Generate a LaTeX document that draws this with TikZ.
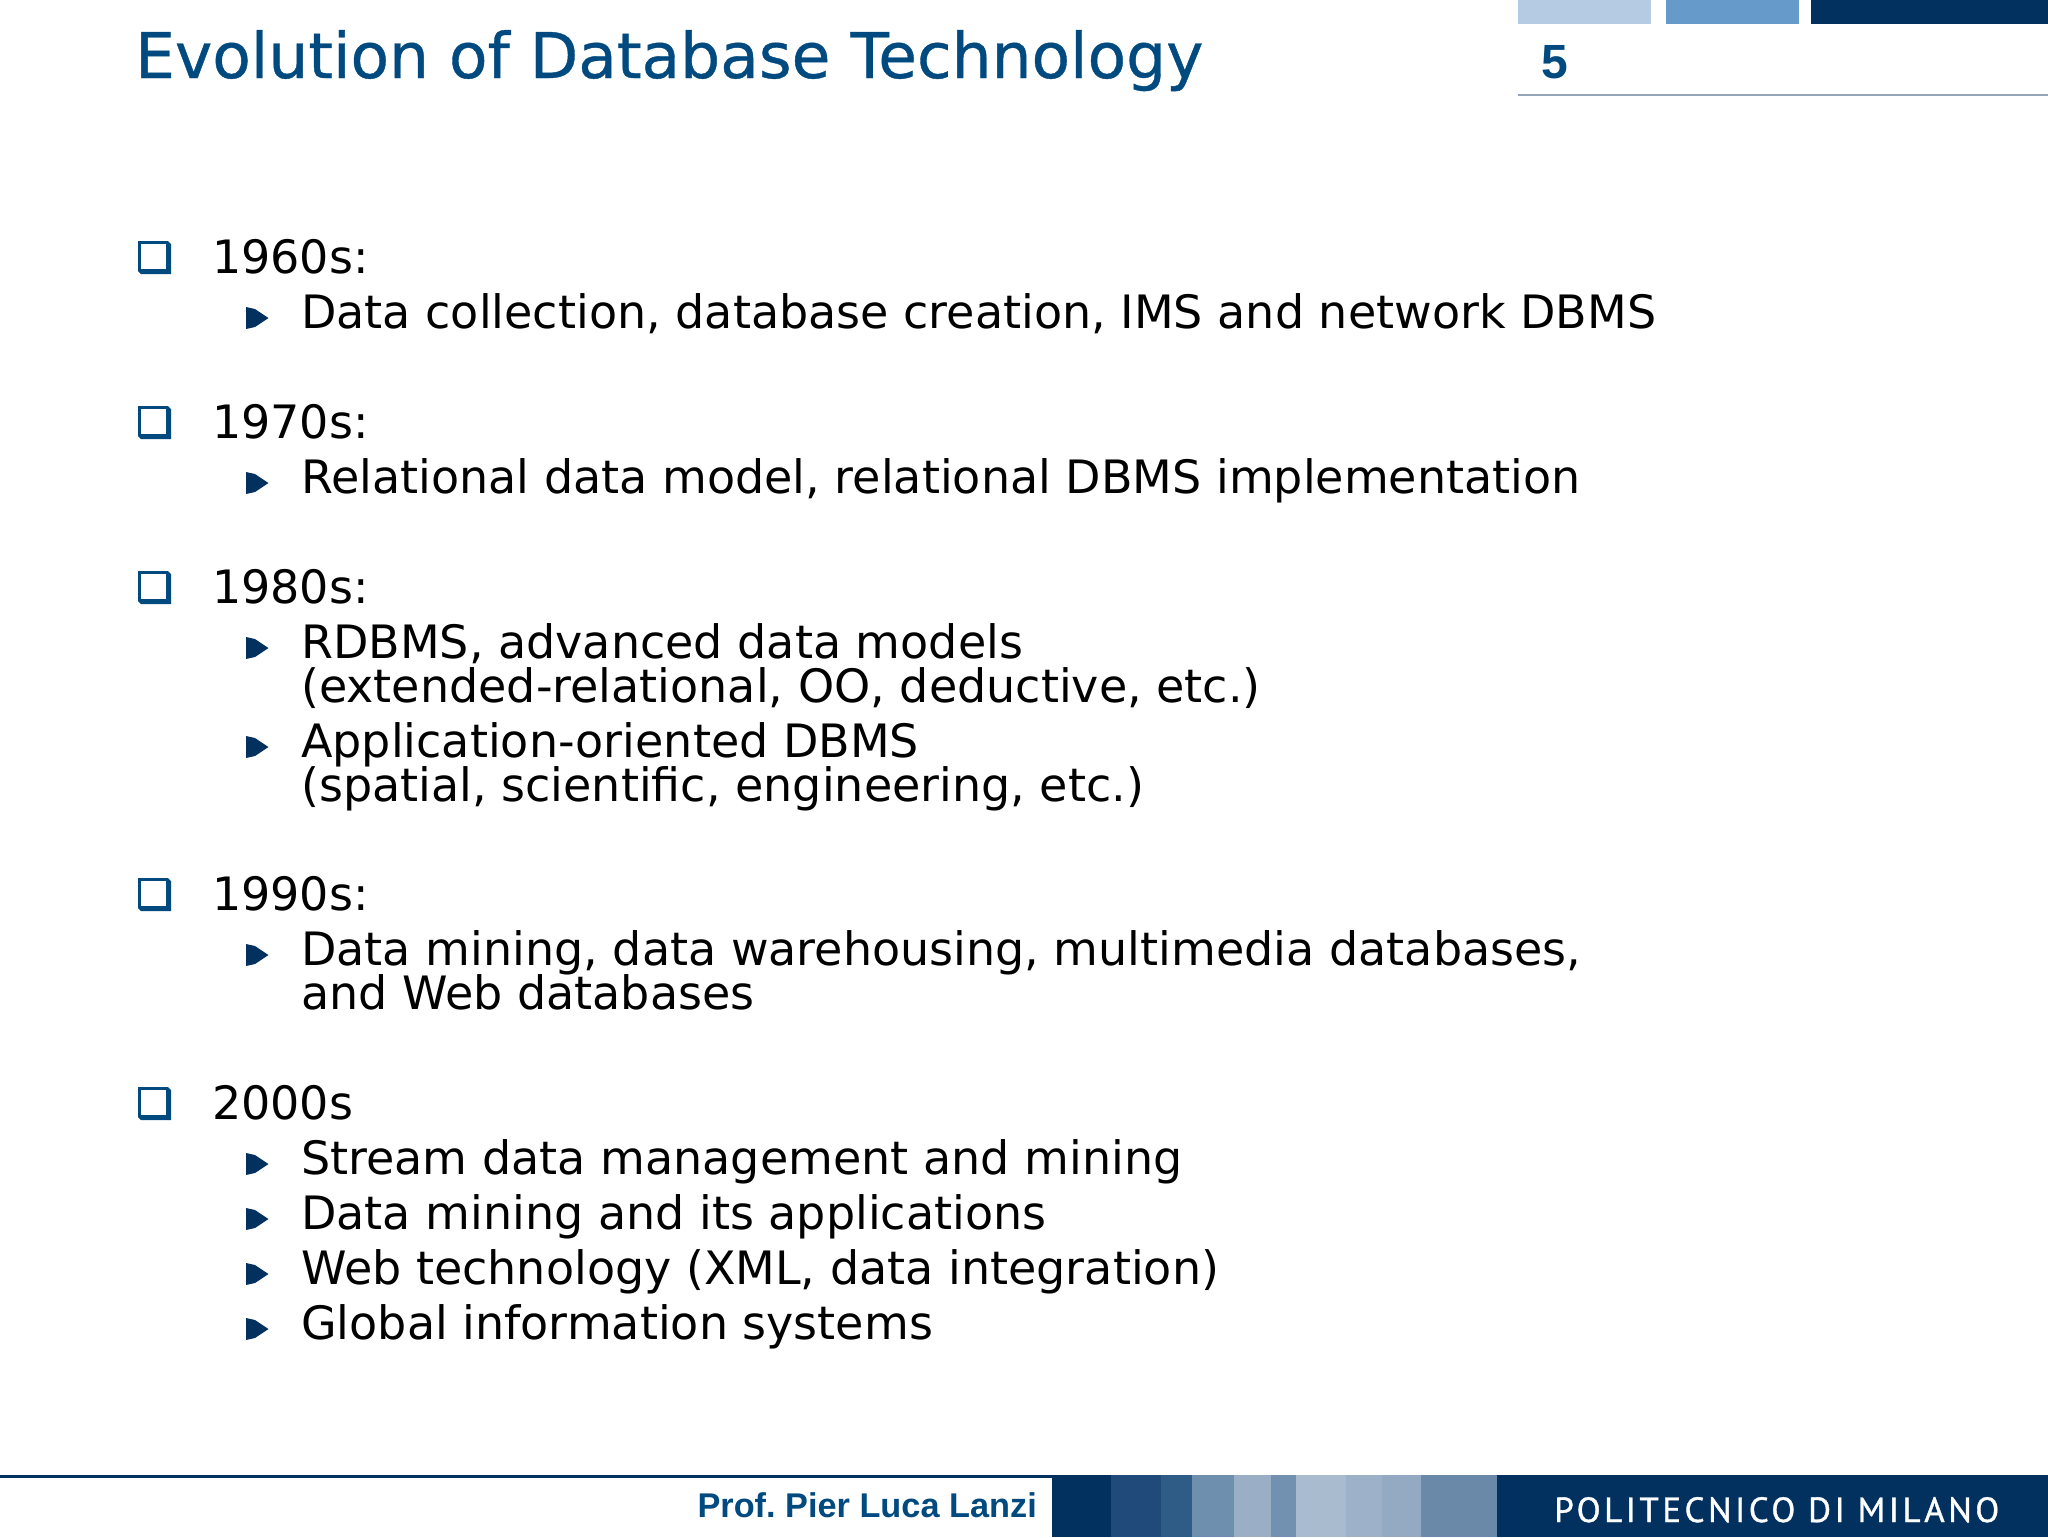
\documentclass[tikz,border=0pt]{standalone}
\usepackage{fontspec}
\setmainfont{DejaVu Sans}
\newfontfamily\titlefont[FakeBold=0.6]{DejaVu Sans}
\newfontfamily\arialfont{Liberation Sans}
\newfontfamily\logofont[LetterSpace=10,FakeBold=1]{PT Sans}
\definecolor{titleblue}{HTML}{004A7F}
\definecolor{navy}{HTML}{02305F}
\definecolor{bulletblue}{HTML}{004A80}
\definecolor{barlight}{HTML}{B5CAE3}
\definecolor{barmid}{HTML}{659ACA}
\definecolor{rulegray}{HTML}{97A5B8}
\definecolor{stripa}{HTML}{1F4A7A}
\definecolor{stripb}{HTML}{2F5C86}
\definecolor{stripc}{HTML}{6F8FAE}
\definecolor{stripd}{HTML}{9AAFC5}
\definecolor{stripe}{HTML}{7291B0}
\definecolor{stripf}{HTML}{A9BBCE}
\definecolor{stripg}{HTML}{9DB2C9}
\definecolor{striph}{HTML}{94AAC3}
\definecolor{stripi}{HTML}{6A88A8}
\tikzset{
  linetext/.style={anchor=base west,inner sep=0pt,font=\fontsize{46}{46}\selectfont},
  squarebullet/.pic={
    \fill[bulletblue] (0,0) -- (30,0) -- (33,3) -- (33,33) -- (3,33) -- (0,30) -- cycle;
    \fill[white] (2.5,2.5) rectangle (27.5,27.5);
  },
  arrowbullet/.pic={
    \fill[navy] (0,0) -- (9,2) -- (22.5,11) -- (9,20) -- (0,22) -- cycle;
  }
}
\begin{document}
\begin{tikzpicture}[x=1pt,y=-1pt]
\useasboundingbox (0,0) rectangle (2048,1537);
\newcommand{\yearpts}{a/273/1960s:, b/438/1970s:, c/603/1980s:, d/910/1990s:, e/1119/2000s}
\newcommand{\subpts}{a/328/{Data collection, database creation, IMS and network DBMS},
  b/493/{Relational data model, relational DBMS implementation},
  c/658/{RDBMS, advanced data models},
  d/757/{Application-oriented DBMS},
  e/965/{Data mining, data warehousing, multimedia databases,},
  f/1174/{Stream data management and mining},
  g/1229/{Data mining and its applications},
  h/1284/{Web technology (XML, data integration)},
  i/1339/{Global information systems}}
\newcommand{\contpts}{c/702/{(extended-relational, OO, deductive, etc.)},
  d/801/{(spatial, scientific, engineering, etc.)},
  e/1009/{and Web databases}}

% header
\node[anchor=base west,inner sep=0pt,text=titleblue,font=\titlefont\fontsize{63}{63}\selectfont] (title) at (135,78) {Evolution of Database Technology};
\fill[barlight] (1518,0) rectangle (1651,24);
\fill[barmid] (1666,0) rectangle (1799,24);
\fill[navy] (1811,0) rectangle (2048,24);
\node[anchor=base west,inner sep=0pt,text=titleblue,font=\arialfont\bfseries\fontsize{48}{48}\selectfont] (page) at (1541,78) {5};
\draw[rulegray,line width=1.5pt] (1518,95) -- (2048,95);

% bullets and text
\foreach \n / \y / \txt in \yearpts {
  \pic at (138,\y-32) {squarebullet};
  \node[linetext] (year\n) at (212,\y) {\txt};
}
\foreach \n / \y / \txt in \subpts {
  \pic at (246,\y-21) {arrowbullet};
  \node[linetext] (sub\n) at (301,\y) {\txt};
}
\foreach \n / \y / \txt in \contpts
  \node[linetext] (cont\n) at (301,\y) {\txt};

% footer
\draw[navy,line width=2.5pt] (0,1476.5) -- (1052,1476.5);
\fill[navy] (1052,1475) rectangle (2048,1537);
\foreach \xa / \xb / \col in {1111/1161/stripa, 1161/1192/stripb, 1192/1234/stripc, 1234/1271/stripd, 1271/1296/stripe, 1296/1346/stripf, 1346/1382/stripg, 1382/1421/striph, 1421/1497/stripi}
  \fill[\col] (\xa,1475) rectangle (\xb,1537);
\node[anchor=base east,inner sep=0pt,text=titleblue,font=\arialfont\bfseries\fontsize{34.3}{35}\selectfont\frenchspacing] (prof) at (1037,1517) {Prof. Pier Luca Lanzi};
\node[anchor=base west,inner sep=0pt,text=white,font=\logofont\fontsize{35}{35}\selectfont] (poli) at (1554,1522) {POLITECNICO DI MILANO};
\end{tikzpicture}
\end{document}
